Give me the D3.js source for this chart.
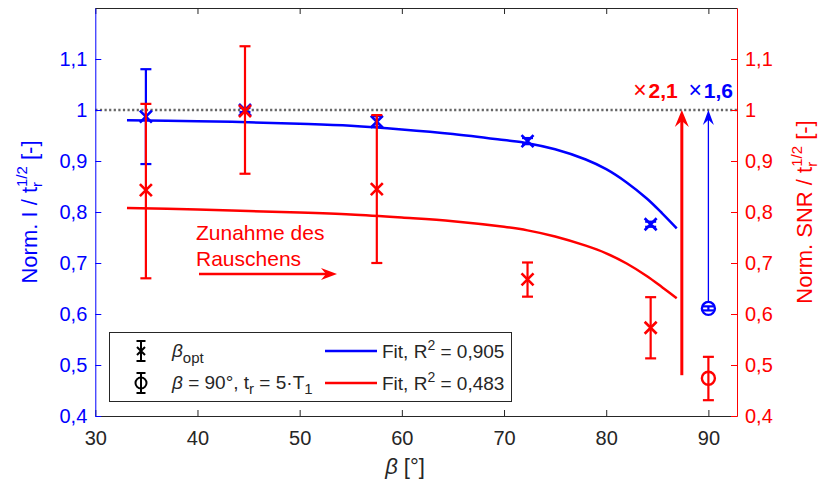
<!DOCTYPE html>
<html>
<head>
<meta charset="utf-8">
<script src="https://cdn.jsdelivr.net/npm/d3@7"></script>
<style>
  body { margin: 0; background: #fff; }
  text { font-family: "Liberation Sans", Arial, Helvetica, sans-serif; }
</style>
</head>
<body>
<svg id="chart" width="821" height="483"></svg>
<script>
// ---- data ----
const betaOpt      = [34.95, 44.65, 57.55, 72.3, 84.35];
const intensity    = [0.987, 1.000, 0.977, 0.939, 0.776];
const intensityLo  = [0.894, 0.996, 0.967, 0.933, 0.771];
const intensityHi  = [1.080, 1.004, 0.988, 0.945, 0.781];
const snr          = [0.843, 0.998, 0.845, 0.668, 0.573];
const snrLo        = [0.670, 0.875, 0.700, 0.634, 0.513];
const snrHi        = [1.012, 1.125, 0.990, 0.701, 0.633];

const beta90       = [90];
const intensity90  = [0.611];
const intensity90Lo = [0.607];
const intensity90Hi = [0.615];
const snr90        = [0.474];
const snr90Lo      = [0.431];
const snr90Hi      = [0.516];

const fitBeta      = [33.1, 40, 45, 50, 55, 60, 65, 70, 72.3, 75, 78, 80, 82, 84, 85.5, 86.9];
const fitIntensity = [0.980, 0.978, 0.976, 0.973, 0.969, 0.962, 0.953, 0.941, 0.935, 0.923, 0.903, 0.884, 0.858, 0.826, 0.797, 0.768];
const fitSnr       = [0.808, 0.805, 0.802, 0.799, 0.795, 0.789, 0.782, 0.771, 0.764, 0.752, 0.734, 0.719, 0.699, 0.674, 0.652, 0.631];

const gainSnr = { beta: 87.4, from: 0.48, to: 1.0, label: "2,1" };
const gainI   = { beta: 90,   from: 0.623, to: 1.0, label: "1,6" };

const xTicks = [30, 40, 50, 60, 70, 80, 90];
const xTickLabels = ["30", "40", "50", "60", "70", "80", "90"];
const yTicks = [0.4, 0.5, 0.6, 0.7, 0.8, 0.9, 1.0, 1.1];
const yTickLabels = ["0,4", "0,5", "0,6", "0,7", "0,8", "0,9", "1", "1,1"];
const fitLabels = ["Fit, R", "2", " = 0,905", "Fit, R", "2", " = 0,483"];

// ---- setup ----
const BLUE = "#0000ff", RED = "#ff0000", DARK = "#262626";
const svg = d3.select("#chart");
const x = d3.scaleLinear().domain([30, 92.8]).range([95.3, 737]);
const yL = d3.scaleLinear().domain([0.4, 1.2]).range([416, 8]);
const yR = d3.scaleLinear().domain([0.4, 1.2]).range([416, 8]);
const [x0, x1] = x.range();
const [yB, yT] = yL.range();

// reference line at 1
svg.append("line")
  .attr("x1", x0).attr("x2", x1)
  .attr("y1", yL(1)).attr("y2", yL(1))
  .attr("stroke", "#666").attr("stroke-width", 2.6)
  .attr("stroke-dasharray", "2.2,2.4");

// ---- axes ----
const fmt = (labels, ticks) => v => labels[ticks.indexOf(v)];

const gx = svg.append("g").attr("transform", `translate(0,${yB})`)
  .call(d3.axisBottom(x).tickValues(xTicks).tickFormat(fmt(xTickLabels, xTicks))
    .tickSizeInner(-6).tickSizeOuter(0).tickPadding(15));
gx.select(".domain").attr("stroke", DARK);
gx.selectAll(".tick line").attr("stroke", DARK);
gx.selectAll("text").attr("fill", DARK).attr("font-size", 20).attr("font-family", null);

const gxt = svg.append("g").attr("transform", `translate(0,${yT})`)
  .call(d3.axisTop(x).tickValues(xTicks).tickFormat("").tickSizeInner(-6).tickSizeOuter(0));
gxt.select(".domain").attr("stroke", DARK);
gxt.selectAll(".tick line").attr("stroke", DARK);

const gyl = svg.append("g").attr("transform", `translate(${x0},0)`)
  .call(d3.axisLeft(yL).tickValues(yTicks).tickFormat(fmt(yTickLabels, yTicks))
    .tickSizeInner(-6).tickSizeOuter(0).tickPadding(8));
gyl.select(".domain").attr("stroke", BLUE);
gyl.selectAll(".tick line").attr("stroke", BLUE);
gyl.selectAll("text").attr("fill", BLUE).attr("font-size", 20).attr("font-family", null);

const gyr = svg.append("g").attr("transform", `translate(${x1},0)`)
  .call(d3.axisRight(yR).tickValues(yTicks).tickFormat(fmt(yTickLabels, yTicks))
    .tickSizeInner(-6).tickSizeOuter(0).tickPadding(8));
gyr.select(".domain").attr("stroke", RED);
gyr.selectAll(".tick line").attr("stroke", RED);
gyr.selectAll("text").attr("fill", RED).attr("font-size", 20).attr("font-family", null);

// ---- axis titles ----
function normLabel(g, name, color) {
  const t = g.append("text").attr("fill", color).attr("font-size", 22).attr("text-anchor", "middle");
  t.append("tspan").text(`Norm. ${name} / t`);
  t.append("tspan").attr("font-size", 15).attr("dy", 5).text("r");
  t.append("tspan").attr("font-size", 15).attr("dx", -5).attr("dy", -15).text("1/2");
  t.append("tspan").attr("dy", 10).text(" [-]");
  return t;
}
normLabel(svg.append("g").attr("transform", "translate(37,212) rotate(-90)"), "I", BLUE);
normLabel(svg.append("g").attr("transform", "translate(812,212) rotate(-90)"), "SNR", RED);

const xl = svg.append("text").attr("x", 405).attr("y", 474).attr("text-anchor", "middle")
  .attr("font-size", 22).attr("fill", DARK);
xl.append("tspan").attr("font-style", "italic").text("β");
xl.append("tspan").text(" [°]");

// ---- fit curves ----
const fitLine = yScale => d3.line()
  .x((d, i) => x(fitBeta[i])).y(d => yScale(d)).curve(d3.curveCatmullRom.alpha(0.5));
svg.append("path").datum(fitIntensity).attr("d", fitLine(yL))
  .attr("fill", "none").attr("stroke", BLUE).attr("stroke-width", 2.5);
svg.append("path").datum(fitSnr).attr("d", fitLine(yR))
  .attr("fill", "none").attr("stroke", RED).attr("stroke-width", 2.5);

// ---- markers ----
const CAP = 5.5;
function errorBars(g, xs, lo, hi, yScale, color, w) {
  xs.forEach((b, i) => {
    const cx = x(b), a = yScale(lo[i]), c = yScale(hi[i]);
    g.append("line").attr("x1", cx).attr("x2", cx).attr("y1", a).attr("y2", c)
      .attr("stroke", color).attr("stroke-width", w);
    [a, c].forEach(yy => g.append("line").attr("x1", cx - CAP).attr("x2", cx + CAP)
      .attr("y1", yy).attr("y2", yy).attr("stroke", color).attr("stroke-width", w));
  });
}
function crosses(g, xs, vals, yScale, color) {
  const s = 6;
  xs.forEach((b, i) => {
    const cx = x(b), cy = yScale(vals[i]);
    g.append("path").attr("d", `M${cx - s},${cy - s}L${cx + s},${cy + s}M${cx - s},${cy + s}L${cx + s},${cy - s}`)
      .attr("stroke", color).attr("stroke-width", 2.6).attr("fill", "none");
  });
}
function circles(g, xs, vals, yScale, color) {
  xs.forEach((b, i) => {
    g.append("circle").attr("cx", x(b)).attr("cy", yScale(vals[i])).attr("r", 6.5)
      .attr("stroke", color).attr("stroke-width", 2.4).attr("fill", "none");
  });
}

const gm = svg.append("g");
errorBars(gm, betaOpt, intensityLo, intensityHi, yL, BLUE, 2.2);
crosses(gm, betaOpt, intensity, yL, BLUE);
errorBars(gm, beta90, intensity90Lo, intensity90Hi, yL, BLUE, 2.2);
circles(gm, beta90, intensity90, yL, BLUE);
errorBars(gm, betaOpt, snrLo, snrHi, yR, RED, 2.2);
crosses(gm, betaOpt, snr, yR, RED);
errorBars(gm, beta90, snr90Lo, snr90Hi, yR, RED, 2.2);
circles(gm, beta90, snr90, yR, RED);

// ---- gain arrows ----
function gainArrow(a, yScale, color, w, head) {
  const cx = x(a.beta), yf = yScale(a.from), yt = yScale(a.to);
  svg.append("line").attr("x1", cx).attr("x2", cx).attr("y1", yf).attr("y2", yt + head.len * 0.6)
    .attr("stroke", color).attr("stroke-width", w);
  svg.append("path")
    .attr("d", `M${cx},${yt}L${cx + head.w / 2},${yt + head.len}L${cx},${yt + head.len * 0.65}L${cx - head.w / 2},${yt + head.len}Z`)
    .attr("fill", color);
}
gainArrow(gainSnr, yR, RED, 3, { w: 14, len: 17 });
gainArrow(gainI, yL, BLUE, 1.3, { w: 11, len: 15 });

function gainLabel(a, yScale, color, anchor, dx) {
  const t = svg.append("text").attr("x", x(a.beta) + dx).attr("y", yScale(a.to) - 12)
    .attr("text-anchor", anchor).attr("fill", color).attr("font-size", 21);
  t.append("tspan").attr("font-size", 23).text("×");
  t.append("tspan").attr("font-weight", "bold").attr("dx", 2).text(a.label);
}
gainLabel(gainSnr, yR, RED, "end", -4);
gainLabel(gainI, yL, BLUE, "start", -20);

// ---- noise annotation ----
const note = svg.append("text").attr("fill", RED).attr("font-size", 21);
note.append("tspan").attr("x", 196).attr("y", 240).text("Zunahme des");
note.append("tspan").attr("x", 196).attr("y", 266).text("Rauschens");
const ay = 274, ax0 = 199, ax1 = 337;
svg.append("line").attr("x1", ax0).attr("x2", ax1 - 10).attr("y1", ay).attr("y2", ay)
  .attr("stroke", RED).attr("stroke-width", 2.5);
svg.append("path").attr("d", `M${ax1},${ay}L${ax1 - 16},${ay - 6}L${ax1 - 11},${ay}L${ax1 - 16},${ay + 6}Z`)
  .attr("fill", RED);

// ---- legend ----
const lg = svg.append("g");
lg.append("rect").attr("x", 109.5).attr("y", 332.5).attr("width", 402).attr("height", 69)
  .attr("fill", "#fff").attr("stroke", DARK).attr("stroke-width", 1);
const rows = [351, 383];
// symbol column
[0, 1].forEach(r => {
  const cy = rows[r], cx = 141;
  lg.append("line").attr("x1", cx).attr("x2", cx).attr("y1", cy - 10).attr("y2", cy + 10)
    .attr("stroke", "#000").attr("stroke-width", 2);
  [cy - 10, cy + 10].forEach(yy => lg.append("line").attr("x1", cx - 4.5).attr("x2", cx + 4.5)
    .attr("y1", yy).attr("y2", yy).attr("stroke", "#000").attr("stroke-width", 2));
  if (r === 0) {
    lg.append("path").attr("d", `M${cx - 4},${cy - 4}L${cx + 4},${cy + 4}M${cx - 4},${cy + 4}L${cx + 4},${cy - 4}`)
      .attr("stroke", "#000").attr("stroke-width", 2);
  } else {
    lg.append("circle").attr("cx", cx).attr("cy", cy).attr("r", 5.5)
      .attr("fill", "none").attr("stroke", "#000").attr("stroke-width", 2);
  }
});
const t1 = lg.append("text").attr("x", 172).attr("y", rows[0] + 6).attr("font-size", 19).attr("fill", DARK);
t1.append("tspan").attr("font-style", "italic").text("β");
t1.append("tspan").attr("font-size", 15).attr("dy", 6).text("opt");
const t2 = lg.append("text").attr("x", 172).attr("y", rows[1] + 6).attr("font-size", 19).attr("fill", DARK);
t2.append("tspan").attr("font-style", "italic").text("β");
t2.append("tspan").text(" = 90°, t");
t2.append("tspan").attr("font-size", 15).attr("dy", 5).text("r");
t2.append("tspan").attr("dy", -5).text(" = 5·T");
t2.append("tspan").attr("font-size", 15).attr("dy", 5).text("1");

[[BLUE, 0], [RED, 1]].forEach(([c, r]) => {
  lg.append("line").attr("x1", 325).attr("x2", 377).attr("y1", rows[r]).attr("y2", rows[r])
    .attr("stroke", c).attr("stroke-width", 2.5);
  const t = lg.append("text").attr("x", 382).attr("y", rows[r] + 7).attr("font-size", 19).attr("fill", DARK);
  t.append("tspan").text(fitLabels[r * 3]);
  t.append("tspan").attr("font-size", 14).attr("dy", -8).text(fitLabels[r * 3 + 1]);
  t.append("tspan").attr("dy", 8).text(fitLabels[r * 3 + 2]);
});
</script>
</body>
</html>
